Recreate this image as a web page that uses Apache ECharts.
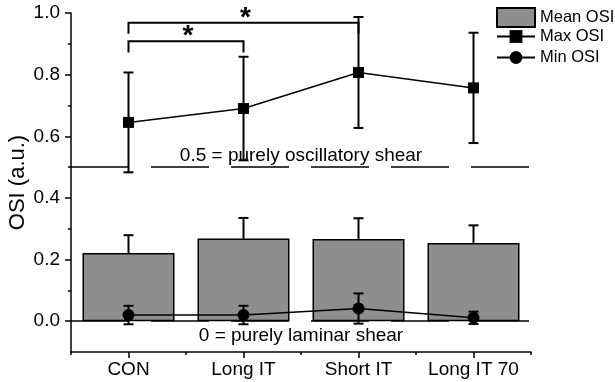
<!DOCTYPE html>
<html>
<head>
<meta charset="utf-8">
<script src="https://cdn.jsdelivr.net/npm/echarts@6/dist/echarts.min.js"></script>
<style>
  html, body { margin: 0; padding: 0; background: #fff; }
  #chart { width: 615px; height: 382px; }
</style>
</head>
<body>
<div id="chart"></div>
<script>
// --- datos ---
const categories = ["CON", "Long IT", "Short IT", "Long IT 70"];
const meanOsi = [0.221, 0.268, 0.267, 0.254];
const meanErr = [0.058, 0.067, 0.067, 0.057];
const maxOsi = [0.645, 0.69, 0.807, 0.757];
const maxErr = [0.162, 0.168, 0.18, 0.179];
const minOsi = [0.02, 0.02, 0.041, 0.011];
const minErr = [0.03, 0.03, 0.049, 0.02];

// ticks del eje y
const yLabels = [0, 0.2, 0.4, 0.6, 0.8, 1.0];
const yMinorTicks = [0.1, 0.3, 0.5, 0.7, 0.9];

// brackets de significancia: [desde, hasta, altura, pata]
const brackets = [
    [0, 2, 0.968, 0.933],
    [0, 1, 0.908, 0.872]
];

// lineas de referencia
const refLines = [
    { value: 0.5, text: "0.5 = purely oscillatory shear", pos: "insideMiddleTop", dist: 2 },
    { value: 0, text: "0 = purely laminar shear", pos: "insideMiddleBottom", dist: 5 }
];

const FONT = "'Liberation Sans', Arial, sans-serif";

var myChart = echarts.init(document.getElementById("chart"));

// --- barras de error ---
function errorSeries(name, values, errs, upperOnly, z) {
    return {
        name: name,
        type: "custom",
        z: z,
        silent: true,
        data: values.map((v, i) => [i, v, errs[i]]),
        renderItem: function (params, api) {
            const x = api.value(0);
            const v = api.value(1);
            const e = api.value(2);
            const top = api.coord([x, v + e]);
            const bot = upperOnly ? api.coord([x, v]) : api.coord([x, v - e]);
            const hw = 5;
            const style = { stroke: "#000", lineWidth: 2 };
            const children = [
                { type: "line", shape: { x1: top[0], y1: top[1], x2: bot[0], y2: bot[1] }, style: style },
                { type: "line", shape: { x1: top[0] - hw, y1: top[1], x2: top[0] + hw, y2: top[1] }, style: style }
            ];
            if (!upperOnly) {
                children.push({ type: "line", shape: { x1: bot[0] - hw, y1: bot[1], x2: bot[0] + hw, y2: bot[1] }, style: style });
            }
            return { type: "group", children: children };
        }
    };
}

myChart.setOption({
    animation: false,
    textStyle: { fontFamily: FONT, color: "#000" },
    grid: { left: 71, right: 84, top: 13, bottom: 30, outerBoundsMode: "none" },
    legend: [
        {
            data: ["Mean OSI"],
            icon: "rect",
            orient: "vertical",
            left: 496,
            top: 7,
            itemWidth: 38,
            itemHeight: 19,
            padding: 0,
            textStyle: { fontFamily: FONT, fontSize: 16.5, color: "#000" }
        },
        {
            data: ["Max OSI", "Min OSI"],
            orient: "vertical",
            left: 496,
            top: 27,
            itemWidth: 38,
            itemHeight: 16,
            itemGap: 2,
            padding: 0,
            textStyle: { fontFamily: FONT, fontSize: 16.5, color: "#000", lineHeight: 19 }
        }
    ],
    xAxis: [
        {
            type: "category",
            data: categories,
            axisLine: { onZero: false, lineStyle: { color: "#000", width: 1.5 } },
            axisTick: { show: true, interval: 0, alignWithLabel: true, length: 6, lineStyle: { color: "#000", width: 1.5 } },
            axisLabel: { color: "#000", fontSize: 19, margin: 8, fontFamily: FONT, interval: 0, hideOverlap: false }
        },
        {
            type: "category",
            data: categories,
            position: "bottom",
            axisLine: { show: false, onZero: false },
            axisTick: { show: true, interval: 0, length: 3, lineStyle: { color: "#000", width: 1.5 } },
            axisLabel: { show: false }
        }
    ],
    yAxis: [
        {
            type: "value",
            min: -0.1,
            max: 1.0,
            name: "OSI (a.u.)",
            nameLocation: "middle",
            nameGap: 42,
            nameMoveOverlap: false,
            nameTextStyle: { fontSize: 22, color: "#000", fontFamily: FONT },
            splitLine: { show: false },
            axisLine: { show: true, onZero: false, lineStyle: { color: "#000", width: 1.5 } },
            axisTick: { show: true, length: 6, customValues: yLabels, lineStyle: { color: "#000", width: 1.5 } },
            axisLabel: {
                customValues: yLabels,
                color: "#000",
                fontSize: 19,
                margin: 11,
                fontFamily: FONT,
                formatter: (v) => v.toFixed(1)
            }
        },
        {
            type: "value",
            min: -0.1,
            max: 1.0,
            position: "left",
            splitLine: { show: false },
            axisLine: { show: false, onZero: false },
            axisTick: { show: true, length: 3, customValues: yMinorTicks, lineStyle: { color: "#000", width: 1.5 } },
            axisLabel: { show: false }
        }
    ],
    series: [
        {
            name: "Mean OSI",
            type: "bar",
            data: meanOsi,
            barWidth: "80%",
            z: 2,
            itemStyle: { color: "#8e8e8e", borderColor: "#000", borderWidth: 1.5 },
            markLine: {
                silent: true,
                symbol: "none",
                z: 5,
                lineStyle: { color: "#000", width: 1.5, type: [58, 22] },
                data: refLines.map((r) => ({
                    yAxis: r.value,
                    label: {
                        show: true,
                        formatter: r.text,
                        position: r.pos,
                        distance: r.dist,
                        color: "#000",
                        fontSize: 19,
                        fontFamily: FONT
                    }
                }))
            }
        },
        errorSeries("meanErr", meanOsi, meanErr, true, 3),
        {
            name: "Max OSI",
            type: "line",
            data: maxOsi,
            symbol: "rect",
            symbolSize: 11,
            z: 4,
            lineStyle: { color: "#000", width: 1.5 },
            itemStyle: { color: "#000" }
        },
        errorSeries("maxErr", maxOsi, maxErr, false, 5),
        {
            name: "Min OSI",
            type: "line",
            data: minOsi,
            symbol: "circle",
            symbolSize: 12,
            z: 4,
            lineStyle: { color: "#000", width: 1.5 },
            itemStyle: { color: "#000" }
        },
        errorSeries("minErr", minOsi, minErr, false, 5),
        {
            name: "brackets",
            type: "custom",
            silent: true,
            clip: false,
            z: 6,
            data: brackets,
            renderItem: function (params, api) {
                const a = api.coord([api.value(0), api.value(2)]);
                const b = api.coord([api.value(1), api.value(2)]);
                const legY = api.coord([api.value(0), api.value(3)])[1];
                const style = { stroke: "#000", lineWidth: 2, fill: null };
                return {
                    type: "group",
                    children: [
                        {
                            type: "polyline",
                            shape: { points: [[a[0], legY], [a[0], a[1]], [b[0], b[1]], [b[0], legY]] },
                            style: style
                        },
                        {
                            type: "text",
                            style: {
                                text: "*",
                                x: (a[0] + b[0]) / 2 + 2,
                                y: a[1] - 5,
                                align: "center",
                                verticalAlign: "middle",
                                font: "bold 28px " + FONT,
                                fill: "#000"
                            }
                        }
                    ]
                };
            }
        }
    ]
});
</script>
</body>
</html>
